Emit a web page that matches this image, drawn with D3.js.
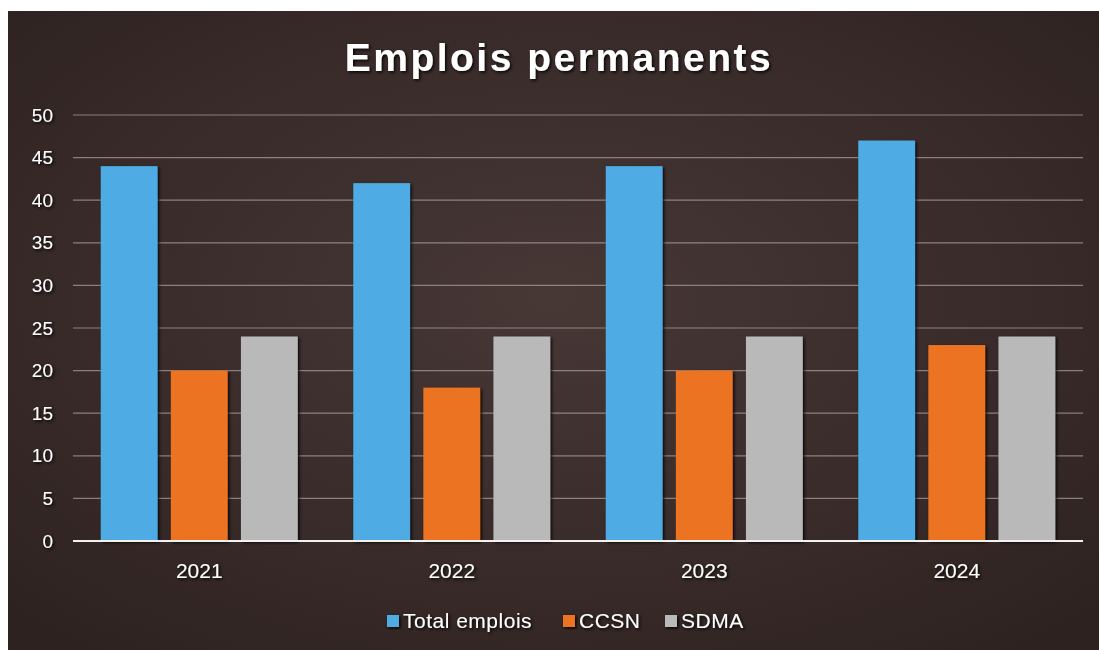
<!DOCTYPE html>
<html>
<head>
<meta charset="utf-8">
<script src="https://cdn.jsdelivr.net/npm/d3@7/dist/d3.min.js"></script>
<style>
  html, body { margin: 0; padding: 0; background: #ffffff; }
  svg { display: block; }
</style>
</head>
<body>
<svg id="chart" width="1099" height="650"></svg>
<script>
// Chart data
const years = ["2021", "2022", "2023", "2024"];
const seriesNames = ["Total emplois", "CCSN", "SDMA"];
const totalEmplois = [44, 42, 44, 47];
const ccsn = [20, 18, 20, 23];
const sdma = [24, 24, 24, 24];
const yTicks = [0, 5, 10, 15, 20, 25, 30, 35, 40, 45, 50];
const colors = ["#4fabe3", "#ec7323", "#b9b9b9"];

const seriesValues = [totalEmplois, ccsn, sdma];
const rows = years.map((y, i) => ({
  year: y,
  values: seriesNames.map((s, k) => ({ key: s, value: seriesValues[k][i], color: colors[k] }))
}));

const W = 1099, H = 650;
const FONT = "Liberation Sans, Arial, sans-serif";
const svg = d3.select("#chart");
const defs = svg.append("defs");

// Dark brown panel with a soft lighter centre
const grad = defs.append("radialGradient")
  .attr("id", "bg").attr("cx", "50%").attr("cy", "45%").attr("r", "70%");
grad.append("stop").attr("offset", "0%").attr("stop-color", "#473836");
grad.append("stop").attr("offset", "100%").attr("stop-color", "#2e2220");

const shadow = defs.append("filter").attr("id", "shadow")
  .attr("x", "-10%").attr("y", "-10%").attr("width", "130%").attr("height", "130%");
shadow.append("feDropShadow").attr("dx", 1.5).attr("dy", 1.5)
  .attr("stdDeviation", 1.5).attr("flood-color", "#000").attr("flood-opacity", 0.9);

svg.append("rect").attr("x", 8).attr("y", 11).attr("width", W - 8).attr("height", H - 11)
  .attr("fill", "url(#bg)");

const margin = { left: 73, right: 1083, top: 115, bottom: 541 };

const x0 = d3.scaleBand().domain(years).range([margin.left, margin.right]).paddingInner(0.22).paddingOuter(0.11);
const x1 = d3.scaleBand().domain(seriesNames).range([0, x0.bandwidth()]).paddingInner(0.19);
const y = d3.scaleLinear().domain([0, 50]).range([margin.bottom, margin.top]);

// Gridlines
svg.append("g")
  .selectAll("line").data(yTicks.filter(t => t > 0)).join("line")
  .attr("x1", margin.left).attr("x2", margin.right)
  .attr("y1", d => y(d)).attr("y2", d => y(d))
  .attr("stroke", "#a89c98").attr("stroke-width", 1.2).attr("opacity", 0.75);

// Y axis labels
const yAxis = d3.axisLeft(y).tickValues(yTicks).tickSize(0).tickPadding(0);
const gy = svg.append("g").attr("transform", "translate(53,0)").call(yAxis);
gy.select(".domain").remove();
gy.selectAll("text")
  .attr("fill", "#ffffff")
  .attr("font-family", FONT)
  .attr("font-size", 19)
  .attr("filter", "url(#shadow)");

// Bars
const groups = svg.append("g").selectAll("g").data(rows).join("g")
  .attr("transform", d => `translate(${x0(d.year)},0)`);
groups.selectAll("rect").data(d => d.values).join("rect")
  .attr("x", d => x1(d.key))
  .attr("y", d => y(d.value))
  .attr("width", x1.bandwidth())
  .attr("height", d => y(0) - y(d.value))
  .attr("fill", d => d.color)
  .attr("filter", "url(#shadow)");

// Baseline
svg.append("line")
  .attr("x1", margin.left).attr("x2", margin.right)
  .attr("y1", y(0)).attr("y2", y(0))
  .attr("stroke", "#f2f2f2").attr("stroke-width", 2.2);

// X axis labels
const xAxis = d3.axisBottom(x0).tickSize(0).tickPadding(0);
const gx = svg.append("g").attr("transform", `translate(0,${y(0) + 22})`).call(xAxis);
gx.select(".domain").remove();
gx.selectAll("text")
  .attr("fill", "#ffffff")
  .attr("font-family", FONT)
  .attr("font-size", 21)
  .attr("filter", "url(#shadow)");

// Title
svg.append("text")
  .attr("x", 559).attr("y", 71)
  .attr("text-anchor", "middle")
  .attr("fill", "#ffffff")
  .attr("font-family", FONT)
  .attr("font-weight", "bold")
  .attr("font-size", 39)
  .attr("letter-spacing", 2.5)
  .attr("filter", "url(#shadow)")
  .text("Emplois permanents");

// Legend
const legendItems = [
  { name: seriesNames[0], color: colors[0], x: 387 },
  { name: seriesNames[1], color: colors[1], x: 563 },
  { name: seriesNames[2], color: colors[2], x: 665 }
];
const lg = svg.append("g").selectAll("g").data(legendItems).join("g")
  .attr("transform", d => `translate(${d.x},621)`);
lg.append("rect").attr("x", 0).attr("y", -6).attr("width", 12).attr("height", 12)
  .attr("fill", d => d.color).attr("filter", "url(#shadow)");
lg.append("text").attr("x", 16).attr("y", 7)
  .attr("fill", "#ffffff")
  .attr("font-family", FONT)
  .attr("font-size", 21)
  .attr("letter-spacing", 0.5)
  .attr("filter", "url(#shadow)")
  .text(d => d.name);
</script>
</body>
</html>
